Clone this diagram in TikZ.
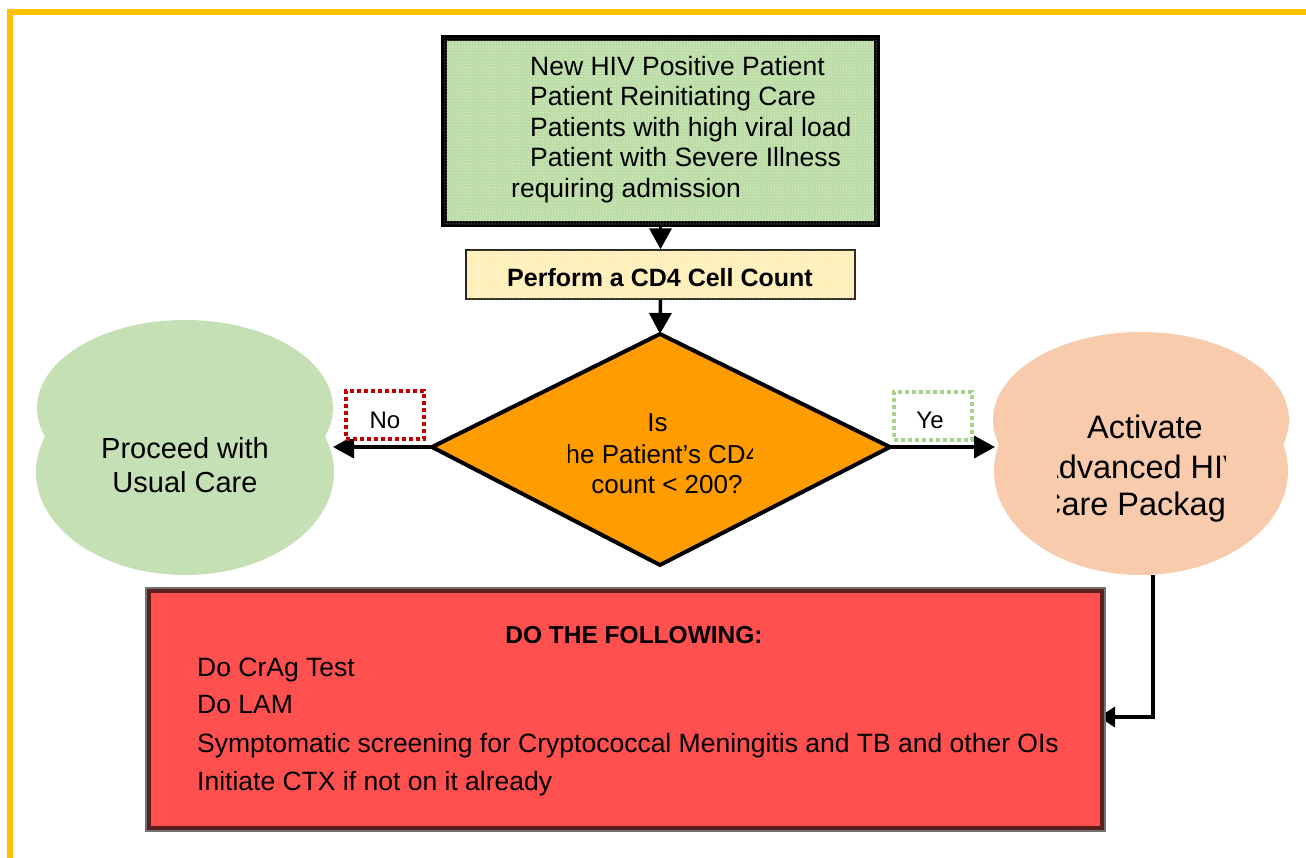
\documentclass[tikz,border=0pt]{standalone}
\usepackage{fontspec}
\setmainfont{Liberation Sans}
\usetikzlibrary{arrows.meta,patterns}
\definecolor{frameor}{HTML}{FFC000}
\definecolor{topgreen}{HTML}{BCDCA6}
\definecolor{cdyellow}{HTML}{FFF2C4}
\definecolor{cddot}{HTML}{FFD24A}
\definecolor{diaor}{HTML}{FF9C00}
\definecolor{blobgreen}{HTML}{C5E0B4}
\definecolor{blobpeach}{HTML}{F8CBAD}
\definecolor{redfill}{HTML}{FF5050}
\definecolor{redborder}{HTML}{5C1F1F}
\definecolor{nored}{HTML}{C00000}
\definecolor{yesgreen}{HTML}{A9D18E}
\tikzset{
  txt/.style={inner sep=0pt, anchor=base west, font=\fontsize{26.5}{30}\selectfont},
  ctxt/.style={inner sep=0pt, anchor=base, font=\fontsize{26}{30}\selectfont},
  btxt/.style={inner sep=0pt, anchor=base, font=\fontsize{32.5}{36}\selectfont},
  conn/.style={line width=3.5pt, -{Triangle[length=21pt,width=22pt]}},
  lbl/.style={line width=4pt, dash pattern=on 4pt off 3pt, fill=white, minimum width=78pt, minimum height=48pt, inner sep=0pt},
  lbltxt/.style={inner sep=0pt, anchor=base, font=\fontsize{24}{28}\selectfont}
}
\begin{document}
\begin{tikzpicture}[x=1pt,y=-1pt]
\useasboundingbox (0,0) rectangle (1306,857);
\fill[white] (0,0) rectangle (1306,857);
% frame
\draw[frameor, line width=5.5pt] (10,870) -- (10,12) -- (1320,12);

% top box
\node[draw=black, line width=6pt, fill=topgreen, postaction={pattern=dots, pattern color=white}, minimum width=433pt, minimum height=186pt, inner sep=0pt] (top) at (660.5,131) {};
\node[txt] (t1) at (530,75) {New HIV Positive Patient};
\node[txt] (t2) at (530,105.5) {Patient Reinitiating Care};
\node[txt] (t3) at (530,136) {Patients with high viral load};
\node[txt] (t4) at (530,166.5) {Patient with Severe Illness};
\node[txt] (t5) at (511,197) {requiring admission};

% CD4 box
\node[draw=black!85, line width=1.5pt, fill=cdyellow, postaction={pattern=dots, pattern color=cddot}, minimum width=389pt, minimum height=49pt, inner sep=0pt] (cd4) at (660.5,274.5) {};
\node[inner sep=0pt, anchor=base, font=\fontsize{25}{29}\selectfont\bfseries] (cd4t) at (660,286) {Perform a CD4 Cell Count};

% diamond
\coordinate (dT) at (660,334);
\coordinate (dL) at (432,447);
\coordinate (dR) at (890,447);
\coordinate (dB) at (660,565);
\draw[line width=4pt, fill=diaor, line join=miter] (dT) -- (dR) -- (dB) -- (dL) -- cycle;
\begin{scope}
\clip (568,380) rectangle (752,520);
\node[ctxt] (q1) at (657.5,431) {Is};
\node[ctxt] (q2) at (655,463) {The Patient’s CD4};
\node[ctxt] (q3) at (667,493) {count < 200?};
\end{scope}

% left blob
\fill[blobgreen] (185,408) ellipse [x radius=148, y radius=88];
\fill[blobgreen] (185,472) ellipse [x radius=149, y radius=103];
\coordinate (lb) at (333,447);
\node[btxt, font=\fontsize{29}{33}\selectfont] (p1) at (185,458) {Proceed with};
\node[btxt, font=\fontsize{29}{33}\selectfont] (p2) at (185,492) {Usual Care};

% right blob
\fill[blobpeach] (1141,420) ellipse [x radius=148, y radius=88];
\fill[blobpeach] (1141,471) ellipse [x radius=147, y radius=104];
\coordinate (rb) at (995,447);
\coordinate (rbB) at (1153,575);
\begin{scope}
\clip (1057,390) rectangle (1225,540);
\node[btxt] (a1) at (1145,438) {Activate};
\node[btxt] (a2) at (1141,478) {Advanced HIV};
\node[btxt] (a3) at (1141,515) {Care Package};
\end{scope}

% connectors
\draw[conn] (top.south) -- (cd4.north);
\draw[conn] (cd4.south) -- (dT);
\draw[conn] (dL) -- (lb);
\draw[conn] (dR) -- (rb);

% labels
\node[lbl, draw=nored] (no) at (385,415) {};
\node[lbltxt] (notxt) at (385,428) {No};
\node[lbl, draw=yesgreen] (yes) at (933,416) {};
\node[lbltxt] (yestxt) at (930,428) {Ye};

% connector to red box
\coordinate (bend) at (1153,717);
\draw[line width=3.5pt, -{Triangle[length=16pt,width=20pt]}] (rbB) -- (bend) -- (1099,717);

% red box
\draw[black!55, line width=2pt] (146,588) rectangle (1105,831);
\node[draw=redborder, line width=4pt, fill=redfill, minimum width=953pt, minimum height=237pt, inner sep=0pt] (red) at (625.5,709.5) {};
\node[inner sep=0pt, anchor=base, font=\fontsize{24.5}{28}\selectfont\bfseries] (r0) at (634,643) {DO THE FOLLOWING:};
\node[txt] (r1) at (197,676) {Do CrAg Test};
\node[txt] (r2) at (197,713) {Do LAM};
\node[txt] (r3) at (197,752) {Symptomatic screening for Cryptococcal Meningitis and TB and other OIs};
\node[txt] (r4) at (197,790) {Initiate CTX if not on it already};
\end{tikzpicture}
\end{document}
